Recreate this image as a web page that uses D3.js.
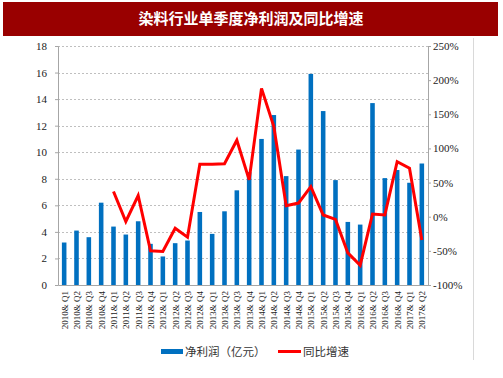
<!DOCTYPE html>
<html lang="zh">
<head>
  <meta charset="UTF-8">
  <title>染料行业单季度净利润及同比增速</title>
  <style>
    body { margin: 0; background: #fff; }
  </style>
</head>
<body>
<script src="https://d3js.org/d3.v7.min.js"></script>
<div id="chart"></div>
<script>
  // DATA ========================================================================
  const quarters = [
    "2010& Q1","2010& Q2","2010& Q3","2010& Q4",
    "2011& Q1","2011& Q2","2011& Q3","2011& Q4",
    "2012& Q1","2012& Q2","2012& Q3","2012& Q4",
    "2013& Q1","2013& Q2","2013& Q3","2013& Q4",
    "2014& Q1","2014& Q2","2014& Q3","2014& Q4",
    "2015& Q1","2015& Q2","2015& Q3","2015& Q4",
    "2016& Q1","2016& Q2","2016& Q3","2016& Q4",
    "2017& Q1","2017& Q2"
  ];
  // 净利润（亿元）
  const profit = [
    3.2, 4.1, 3.6, 6.2,
    4.4, 3.8, 4.8, 3.1,
    2.15, 3.15, 3.35, 5.5,
    3.85, 5.55, 7.13, 8.5,
    11.0, 12.8, 8.2, 10.2,
    15.9, 13.1, 7.9, 4.75,
    4.55, 13.7, 8.05, 8.66,
    7.7, 9.15
  ];
  // 同比增速（%），first four quarters have no value
  const growth = [
    null, null, null, null,
    37, -7, 31, -50,
    -51, -17, -30, 77,
    77, 77.5, 112, 54,
    188, 132, 16, 20,
    44, 2.5, -4, -53,
    -71, 4, 2.5, 80.5,
    71, -34
  ];
  const leftTicks = [0, 2, 4, 6, 8, 10, 12, 14, 16, 18];
  const rightTicks = [-100, -50, 0, 50, 100, 150, 200, 250];

  // PLOT AREA ===================================================================
  const W = 503, H = 378;
  const margin = {top: 46, right: 75, bottom: 93, left: 58};
  const width = W - margin.left - margin.right,
        height = H - margin.top - margin.bottom;

  const svg = d3.select("#chart").append("svg")
      .attr("width", W)
      .attr("height", H);

  // title bar
  svg.append("rect")
      .attr("x", 3).attr("y", 2)
      .attr("width", 495).attr("height", 34)
      .attr("fill", "#990000");
  svg.append("text")
      .attr("x", 251).attr("y", 24)
      .attr("text-anchor", "middle")
      .attr("fill", "#fff")
      .attr("font-family", "'Noto Sans CJK SC', sans-serif")
      .attr("font-weight", "bold")
      .attr("font-size", 15)
      .text("染料行业单季度净利润及同比增速");

  // light frame line on the right
  svg.append("line")
      .attr("x1", 473.5).attr("x2", 473.5)
      .attr("y1", 38).attr("y2", 360)
      .attr("stroke", "#d9d9d9");

  const g = svg.append("g")
      .attr("transform", `translate(${margin.left},${margin.top})`);

  // SCALES ======================================================================
  const x = d3.scaleBand().domain(quarters).range([0, width]).paddingInner(0.63).paddingOuter(0.315);
  const xc = d3.scalePoint().domain(quarters).range([0, width]).padding(0.5);
  const y = d3.scaleLinear().domain([0, 18]).range([height, 0]);
  const y2 = d3.scaleLinear().domain([-100, 250]).range([height, 0]);

  // grid lines
  g.append("g")
    .selectAll("line")
    .data(leftTicks.slice(1))
    .join("line")
      .attr("x1", 0).attr("x2", width)
      .attr("y1", d => Math.round(y(d)) + 0.5)
      .attr("y2", d => Math.round(y(d)) + 0.5)
      .attr("stroke", "#bfbfbf")
      .attr("stroke-dasharray", "2,2");

  // AXES ========================================================================
  const axisFont = "'Liberation Serif', 'Times New Roman', serif";

  const yAxis = g.append("g")
      .call(d3.axisLeft(y).tickValues(leftTicks).tickSize(3).tickPadding(8));
  const y2Axis = g.append("g")
      .attr("transform", `translate(${width},0)`)
      .call(d3.axisRight(y2).tickValues(rightTicks).tickSize(3).tickPadding(2)
        .tickFormat(d => d + "%"));
  const xAxis = g.append("g")
      .attr("transform", `translate(0,${height})`)
      .call(d3.axisBottom(xc).tickSize(0).tickPadding(6));

  [yAxis, y2Axis, xAxis].forEach(a => {
    a.select(".domain").attr("stroke", "#a6a6a6");
    a.selectAll(".tick line").attr("stroke", "#a6a6a6");
    a.selectAll("text")
      .attr("font-family", axisFont)
      .attr("fill", "#222");
  });
  yAxis.selectAll("text").attr("font-size", 11);
  y2Axis.selectAll("text").attr("font-size", 11);
  xAxis.selectAll("text")
      .attr("font-size", 9)
      .attr("text-anchor", "end")
      .attr("dy", "0.32em")
      .attr("transform", "rotate(-90)")
      .attr("x", -6)
      .attr("y", 0);

  // BARS ========================================================================
  g.append("g")
    .selectAll("rect")
    .data(profit)
    .join("rect")
      .attr("x", (d, i) => x(quarters[i]))
      .attr("y", d => y(d))
      .attr("width", x.bandwidth())
      .attr("height", d => height - y(d))
      .attr("fill", "#0070c0");

  // LINE ========================================================================
  const line = d3.line()
      .defined(d => d.v !== null)
      .x(d => xc(d.q))
      .y(d => y2(d.v));
  g.append("path")
      .datum(quarters.map((q, i) => ({q, v: growth[i]})))
      .attr("d", line)
      .attr("fill", "none")
      .attr("stroke", "#ff0000")
      .attr("stroke-width", 3)
      .attr("stroke-linejoin", "miter");

  // LEGEND ======================================================================
  const legendFont = "'Noto Sans CJK SC', sans-serif";
  const lg = svg.append("g");
  lg.append("rect")
      .attr("x", 161).attr("y", 349)
      .attr("width", 22).attr("height", 5)
      .attr("fill", "#0070c0");
  lg.append("text")
      .attr("x", 185).attr("y", 356)
      .attr("font-family", legendFont)
      .attr("font-size", 11.5)
      .attr("fill", "#333")
      .text("净利润（亿元）");
  lg.append("line")
      .attr("x1", 278).attr("x2", 301)
      .attr("y1", 351.5).attr("y2", 351.5)
      .attr("stroke", "#ff0000")
      .attr("stroke-width", 3);
  lg.append("text")
      .attr("x", 303).attr("y", 356)
      .attr("font-family", legendFont)
      .attr("font-size", 11.5)
      .attr("fill", "#333")
      .text("同比增速");
</script>
</body>
</html>
